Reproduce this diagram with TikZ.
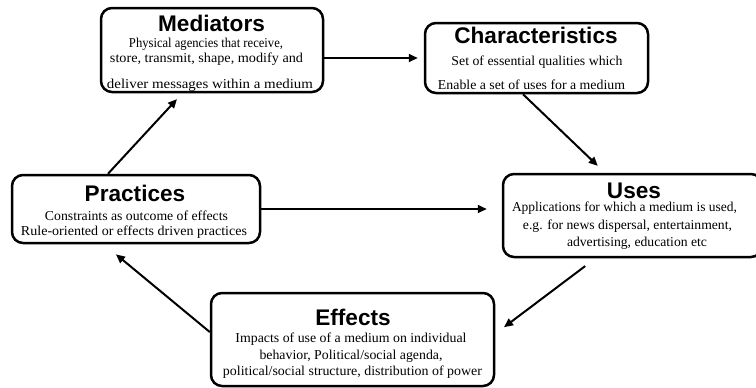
\documentclass[tikz,border=0pt]{standalone}
\usepackage{fontspec}
\usepackage{graphicx}
\setmainfont{Liberation Serif}
\newfontfamily\ttlfont{Liberation Sans}
\usetikzlibrary{arrows.meta,calc}
\newcommand{\fitw}[2]{\resizebox{#1pt}{\height}{\fontsize{13.6}{16}\selectfont #2}}
\tikzset{
  box/.style={draw=black, line width=2.5pt, rounded corners=11pt, inner sep=0pt, fill=white},
  ttl/.style={anchor=base, inner sep=0pt, font=\ttlfont\fontsize{22.6}{26}\selectfont\bfseries},
  bdy/.style={anchor=base, inner sep=0pt},
  arr/.style={draw=black, line width=2pt, -{Triangle[length=9pt,width=8pt]}}
}
\begin{document}
\begin{tikzpicture}[x=1pt,y=-1pt]
\useasboundingbox (0,0) rectangle (756,388);
% boxes
\node[box, minimum width=222pt, minimum height=84pt] (med) at (212,50) {};
\node[box, minimum width=223pt, minimum height=70pt] (char) at (536.5,58) {};
\node[box, minimum width=248pt, minimum height=68pt] (prac) at (136,209) {};
\node[box, minimum width=259pt, minimum height=83pt] (uses) at (632.5,215.5) {};
\node[box, minimum width=283pt, minimum height=93pt] (eff) at (352.5,339.5) {};
% Mediators text
\node[ttl] (medT) at (211.5,31) {Mediators};
\node[bdy] (medA) at (206,47) {\fitw{154}{Physical agencies that receive,}};
\node[bdy] (medB) at (206.5,63) {\fitw{193}{store, transmit, shape, modify and}};
\node[bdy] (medC) at (210,88) {\fitw{206}{deliver messages within a medium}};
% Characteristics text
\node[ttl] (charT) at (536,43) {Characteristics};
\node[bdy] (charA) at (537,65) {\fitw{171}{Set of essential qualities which}};
\node[bdy] (charB) at (531.5,89) {\fitw{187}{Enable a set of uses for a medium}};
% Practices text
\node[ttl] (pracT) at (135,201.5) {Practices};
\node[bdy] (pracA) at (136.5,220) {\fitw{183}{Constraints as outcome of effects}};
\node[bdy] (pracB) at (134,235) {\fitw{226}{Rule-oriented or effects driven practices}};
% Uses text
\node[ttl] (usesT) at (634,198) {Uses};
\node[bdy] (usesA) at (624.5,211.5) {\fitw{225}{Applications for which a medium is used,}};
\node[bdy] (usesB) at (627.5,229) {\fitw{209}{e.g. for news dispersal, entertainment,}};
\node[bdy] (usesC) at (637,246.5) {\fitw{140}{advertising, education etc}};
% Effects text
\node[ttl] (effT) at (353,325) {Effects};
\node[bdy] (effA) at (351,342) {\fitw{231}{Impacts of use of a medium on individual}};
\node[bdy] (effB) at (351,359) {\fitw{183}{behavior, Political/social agenda,}};
\node[bdy] (effC) at (352.5,375.5) {\fitw{259}{political/social structure, distribution of power}};
% arrows
\draw[arr, shorten >=6pt] (med.east |- char.west) -- (char.west);
\draw[arr, shorten >=10pt] ([xshift=-13.5pt]char.south) -- ([xshift=-27.5pt]uses.north);
\draw[arr, shorten <=13pt, shorten >=11pt] ([xshift=-36.9pt]uses.south) -- ([yshift=5.7pt]eff.east);
\draw[arr, shorten >=15.8pt] ([yshift=7.5pt]eff.west) -- ([xshift=-32.2pt]prac.south);
\draw[arr, shorten >=8pt] ([xshift=-28pt]prac.north) -- ([xshift=-29.6pt]med.south);
\draw[arr, shorten >=15pt] (prac.east) -- (prac.east -| uses.west);
\end{tikzpicture}
\end{document}
